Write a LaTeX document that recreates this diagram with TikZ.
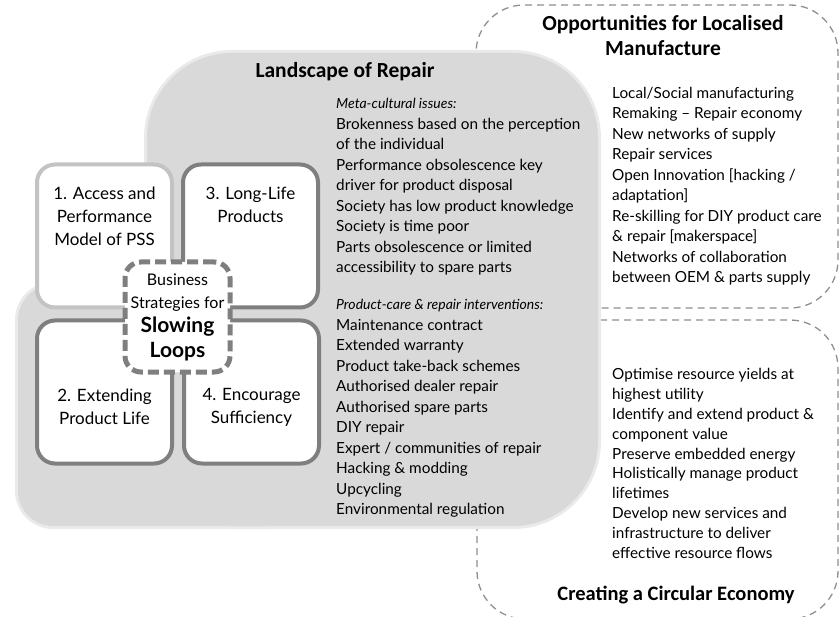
\documentclass[tikz,border=0pt]{standalone}
\usepackage{fontspec}
\setmainfont{Lato}
\newfontfamily\headfont{Carlito}
\usetikzlibrary{positioning}
\definecolor{repairgrey}{HTML}{D9D9D9}
\definecolor{boxdark}{HTML}{7F7F7F}
\definecolor{boxlight}{HTML}{C3C3C3}
\definecolor{dashgrey}{HTML}{8F8F8F}
\tikzstyle{strategy} = [draw=boxdark,line width=4pt,fill=white,rounded corners=18pt,minimum width=135pt,minimum height=143pt]
\tikzstyle{hub} = [draw=boxdark,line width=5pt,dash pattern=on 11pt off 5pt,fill=white,rounded corners=16pt,minimum width=105pt,minimum height=110pt,inner sep=0pt,align=center,font=\fontsize{16}{23}\selectfont]
\tikzstyle{boxlabel} = [font=\fontsize{17}{23}\selectfont,align=center,inner sep=0pt]
\tikzstyle{itemlist} = [font=\fontsize{15.3}{20.5}\selectfont,align=left,inner sep=0pt,anchor=north west]
\tikzstyle{heading} = [font=\headfont\bfseries\fontsize{21.5}{25}\selectfont,align=center,inner sep=0pt]
\tikzstyle{zone} = [draw=dashgrey,line width=1.3pt,dash pattern=on 7pt off 5pt,rounded corners=48pt]
\def \rr {85pt}

\begin{document}
\begin{tikzpicture}[x=1pt,y=-1pt]
      \useasboundingbox (0,0) rectangle (840,617);
      \draw[zone] (476,5) rectangle (838,308);
      \draw[zone] (477,320) rectangle (838,619);
      \draw[repairgrey!55!white,line width=6pt,rounded corners=\rr] (147,53) rectangle (598,526);
      \draw[repairgrey!55!white,line width=6pt,rounded corners=35pt] (18,285) rectangle (300,526);
      \fill[repairgrey,rounded corners=\rr] (147,53) rectangle (598,526);
      \fill[repairgrey,rounded corners=35pt] (18,285) rectangle (300,526);
      \node[heading] (repairtitle) at (345,72) {Landscape of Repair};
      \node[heading] (localtitle) at (663,36) {Opportunities for Localised\\Manufacture};
      \node[heading,font=\headfont\bfseries\fontsize{20.5}{25}\selectfont] (circulartitle) at (676,595) {Creating a Circular Economy};
      \node[strategy,draw=boxlight] (pss) at (104.5,236) {};
      \node[strategy,right=7pt of pss] (longlife) {};
      \node[strategy,below=9pt of pss] (extend) {};
      \node[strategy,right=8pt of extend] (suffic) {};
      \node[boxlabel,below=24pt of pss.north] (psstext) {1. Access and\\Performance\\Model of PSS};
      \node[boxlabel,below=24pt of longlife.north] (longlifetext) {3. Long-Life\\Products};
      \node[boxlabel,below=70pt of extend.north] (extendtext) {2. Extending\\Product Life};
      \node[boxlabel,below=70pt of suffic.north] (suffictext) {4. Encourage\\Sufficiency};
      \node[hub] (hub) at (177.5,317) {Business\\Strategies for\\[1pt]\textbf{\fontsize{21}{26}\selectfont Slowing}\\[2pt]\textbf{\fontsize{21}{26}\selectfont Loops}};
      \node[itemlist] (metalist) at (336,98) {{\fontsize{14}{20.5}\selectfont\itshape Meta-cultural issues:}\\Brokenness based on the perception\\of the individual\\Performance obsolescence key\\driver for product disposal\\Society has low product knowledge\\Society is time poor\\Parts obsolescence or limited\\accessibility to spare parts};
      \node[itemlist,below=24pt of metalist.south west,anchor=north west] (carelist) {{\fontsize{14}{20.5}\selectfont\itshape Product-care \& repair interventions:}\\Maintenance contract\\Extended warranty\\Product take-back schemes\\Authorised dealer repair\\Authorised spare parts\\DIY repair\\Expert / communities of repair\\Hacking \& modding\\Upcycling\\Environmental regulation};
      \node[itemlist] (locallist) at (612,87) {Local/Social manufacturing\\Remaking -- Repair economy\\New networks of supply\\Repair services\\Open Innovation [hacking /\\adaptation]\\Re-skilling for DIY product care\\\& repair [makerspace]\\Networks of collaboration\\between OEM \& parts supply};
      \node[itemlist,font=\fontsize{15.3}{19.9}\selectfont] (circularlist) at (612,368) {Optimise resource yields at\\highest utility\\Identify and extend product \&\\component value\\Preserve embedded energy\\Holistically manage product\\lifetimes\\Develop new services and\\infrastructure to deliver\\effective resource flows};
    \end{tikzpicture}
\end{document}
